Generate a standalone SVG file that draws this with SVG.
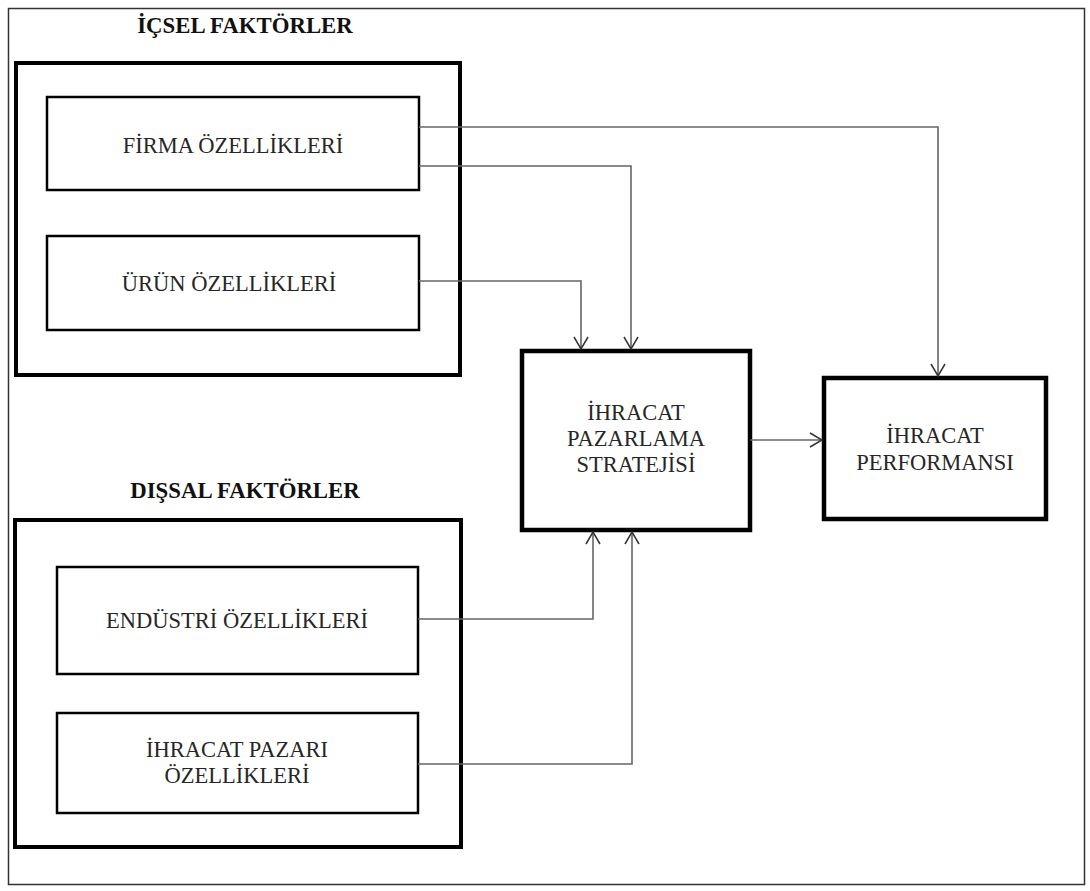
<svg xmlns="http://www.w3.org/2000/svg" width="1090" height="891" viewBox="0 0 1090 891">
<defs>
<style>
.t{font-family:"Liberation Serif","Times New Roman",serif;font-size:22.5px;fill:#262626;text-anchor:middle}
.h{font-family:"Liberation Serif","Times New Roman",serif;font-size:22.8px;font-weight:bold;fill:#111;text-anchor:middle}
.grp{fill:none;stroke:#000;stroke-width:4}
.box{fill:#fff;stroke:#000;stroke-width:2.5}
.big{fill:#fff;stroke:#000;stroke-width:4.5}
.con{fill:none;stroke:#666;stroke-width:1.6}
</style>
<marker id="arr" viewBox="0 0 14 16" refX="13" refY="8" markerWidth="14" markerHeight="16" markerUnits="userSpaceOnUse" orient="auto">
<path d="M1,1 L13,8 L1,15" fill="none" stroke="#333" stroke-width="1.5"/>
</marker>
</defs>
<rect width="1090" height="891" fill="#fff"/>
<g id="frame"><rect x="8.5" y="8.5" width="1076" height="876" fill="none" stroke="#333" stroke-width="1.5"/></g>
<g id="icsel">
<text class="h" x="245" y="33">İÇSEL FAKTÖRLER</text>
<rect class="grp" x="16" y="63" width="444" height="312"/>
</g>
<g id="firma">
<rect class="box" x="47" y="97" width="372" height="93"/>
<text class="t" x="233" y="153">FİRMA ÖZELLİKLERİ</text>
</g>
<g id="urun">
<rect class="box" x="47" y="236" width="372" height="94"/>
<text class="t" x="229" y="291">ÜRÜN ÖZELLİKLERİ</text>
</g>
<g id="dissal">
<text class="h" x="245" y="498">DIŞSAL FAKTÖRLER</text>
<rect class="grp" x="15" y="520" width="446" height="327"/>
</g>
<g id="endustri">
<rect class="box" x="57" y="567" width="361" height="107"/>
<text class="t" x="237" y="628">ENDÜSTRİ ÖZELLİKLERİ</text>
</g>
<g id="pazar">
<rect class="box" x="57" y="713" width="361" height="100"/>
<text class="t" x="237" y="757">İHRACAT PAZARI</text>
<text class="t" x="237" y="783">ÖZELLİKLERİ</text>
</g>
<g id="strateji">
<rect class="big" x="522" y="351" width="228" height="179"/>
<text class="t" x="636" y="420">İHRACAT</text>
<text class="t" x="636" y="446">PAZARLAMA</text>
<text class="t" x="636" y="472">STRATEJİSİ</text>
</g>
<g id="performans">
<rect class="big" x="824" y="378" width="222" height="141"/>
<text class="t" x="935" y="443">İHRACAT</text>
<text class="t" x="935" y="470">PERFORMANSI</text>
</g>
<g id="connectors">
<path class="con" d="M419,127 H938 V376" marker-end="url(#arr)"/>
<path class="con" d="M419,166 H631 V349" marker-end="url(#arr)"/>
<path class="con" d="M419,281 H581 V349" marker-end="url(#arr)"/>
<path class="con" d="M418,619 H593 V532" marker-end="url(#arr)"/>
<path class="con" d="M418,764 H632 V532" marker-end="url(#arr)"/>
<path class="con" d="M750,440 H822" marker-end="url(#arr)"/>
</g>
</svg>
